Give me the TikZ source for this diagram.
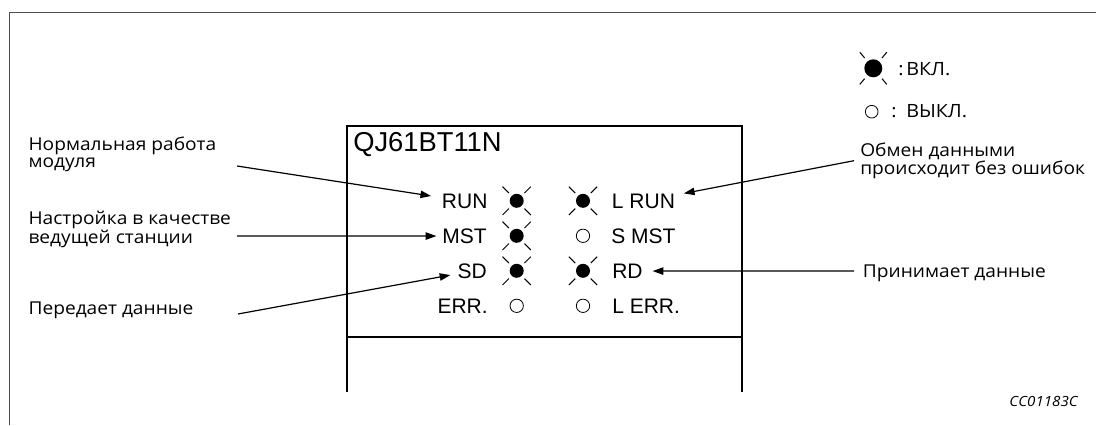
\documentclass[tikz,border=0pt]{standalone}
\usepackage{fontspec}
\setmainfont{Liberation Sans}
\newfontfamily\callfont[FakeStretch=1.08]{Open Sans}
\usetikzlibrary{arrows.meta,positioning}

\tikzset{
  ledlabel/.style={inner sep=0pt, font=\fontsize{15.75pt}{18pt}\selectfont},
  callout/.style={inner sep=0pt, align=left, font=\callfont\fontsize{13.3pt}{12.5pt}\selectfont},
  legtext/.style={inner sep=0pt, font=\callfont\fontsize{13.7pt}{14pt}\selectfont},
  ledon/.style={circle, fill=black, inner sep=0pt, minimum size=10.5pt},
  ledoff/.style={circle, draw=black, line width=0.6pt, inner sep=0pt, minimum size=10pt},
  ray/.style={line width=0.75pt},
  pointer/.style={-{Triangle[length=8pt,width=5.5pt]}, line width=0.9pt},
}

\begin{document}
\begin{tikzpicture}[x=0.75pt, y=-0.75pt]
  \useasboundingbox (0,0) rectangle (1096,425);
  % outer frame
  \draw[black!70, line width=0.8pt] (9.7,425) -- (9.7,12.7) -- (1096,12.7);
  % module front
  \draw[line width=1.3pt] (347,392) -- (347,126) -- (742,126) -- (742,392);
  \draw[line width=1.3pt] (347,337) -- (742,337);
  \node[anchor=base west, inner sep=0pt, font=\fontsize{20.5pt}{24pt}\selectfont] (model) at (353,151) {QJ61BT11N};
  % LED names
  \node[ledlabel, anchor=base east] (run) at (487.7,208.3) {RUN};
  \node[ledlabel, anchor=base east] (mst) at (487,243.3) {MST};
  \node[ledlabel, anchor=base east] (sd) at (487,278.3) {SD};
  \node[ledlabel, anchor=base east] (err) at (488,313.3) {ERR.};
  \node[ledlabel, anchor=base west] (lrun) at (611.7,208.3) {L RUN};
  \node[ledlabel, anchor=base west] (smst) at (611,243.3) {S MST};
  \node[ledlabel, anchor=base west] (rd) at (612,278.3) {RD};
  \node[ledlabel, anchor=base west] (lerr) at (612,313.3) {L ERR.};
  % LEDs
  \node[ledon] (ledrun) at (516.7,200.8) {};
  \node[ledon] (ledmst) at (516.7,235.8) {};
  \node[ledon] (ledsd) at (516.7,270.8) {};
  \node[ledoff] (lederr) at (516.7,305.8) {};
  \node[ledon] (ledlrun) at (583,200.8) {};
  \node[ledoff] (ledsmst) at (583,235.8) {};
  \node[ledon] (ledrd) at (583,270.8) {};
  \node[ledoff] (ledlerr) at (583,305.8) {};
  \foreach \led in {ledrun,ledmst,ledsd,ledlrun,ledrd}
    \foreach \a in {45,135,225,315}
      \draw[ray] (\led.center) ++(\a:11) -- ++(\a:9);
  % legend
  \node[ledon, minimum size=13.5pt] (legon) at (873.3,68.3) {};
  \foreach \a in {50,130,230,310}
    \draw[ray] (legon.center) ++(\a:13.5) -- ++(\a:7.5);
  \node[ledoff, minimum size=9.5pt] (legoff) at (871.7,111.7) {};
  \node[legtext, anchor=base] (colonon) at (901,75) {:};
  \node[legtext, anchor=base west] (txton) at (906,75) {ВКЛ.};
  \node[legtext, anchor=base] (colonoff) at (894,117) {:};
  \node[legtext, anchor=base west] (txtoff) at (906,117) {ВЫКЛ.};
  % callouts
  \node[callout, anchor=base west] (txtrun) at (28.3,167.5) {Нормальная работа\\модуля};
  \node[callout, anchor=base west] (txtmst) at (28.3,243.7) {Настройка в качестве\\ведущей станции};
  \node[callout, anchor=base west] (txtsd) at (28.3,314) {Передает данные};
  \node[callout, anchor=base west] (txtlrun) at (860,174.3) {Обмен данными\\происходит без ошибок};
  \node[callout, anchor=base west] (txtrd) at (862.7,277.3) {Принимает данные};
  \coordinate (fromrun) at (237,166);
  \coordinate (frommst) at (237,236);
  \coordinate (fromsd) at (238,314);
  \coordinate (fromlrun) at (854,160.7);
  \coordinate (fromrd) at (854,271);
  \draw[pointer, shorten >=8pt] (fromrun) -- (run);
  \draw[pointer, shorten >=4.3pt] (frommst) -- (mst);
  \draw[pointer, shorten >=5.3pt] (fromsd) -- (sd);
  \draw[pointer, shorten >=6.6pt] (fromlrun) -- (lrun);
  \draw[pointer, shorten >=7.3pt] (fromrd) -- (rd);
  % drawing number
  \node[anchor=base east, inner sep=0pt, font=\callfont\itshape\fontsize{10.5pt}{12pt}\selectfont] (code) at (1078,406) {CC01183C};
\end{tikzpicture}
\end{document}
